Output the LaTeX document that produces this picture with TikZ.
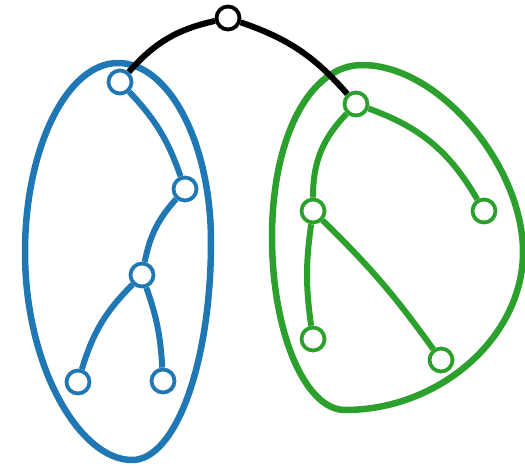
\documentclass[tikz,border=0pt]{standalone}
\definecolor{treeblue}{HTML}{1F77B4}
\definecolor{treegreen}{HTML}{2CA02C}
\tikzset{
  vert/.style={circle,draw,fill=white,line width=3.8pt,minimum size=23pt,inner sep=0pt},
  link/.style={line width=6pt},
  hull/.style={line width=6.5pt,line join=round}
}
\begin{document}
\begin{tikzpicture}[x=1pt,y=1pt]
\useasboundingbox (0,0) rectangle (525,467);
% the two clusters
\draw[hull,treeblue] (118,404) .. controls (169,404) and (211,324) .. (211,225)
  .. controls (211,105) and (176,7) .. (132,7)
  .. controls (80,7) and (25,100) .. (25,215)
  .. controls (25,319) and (67,404) .. (118,404) -- cycle;
\draw[hull,treegreen] (362,402) .. controls (440,402) and (523,300) .. (523,215)
  .. controls (523,130) and (440,57) .. (345,57)
  .. controls (305,57) and (272,135) .. (272,230)
  .. controls (272,330) and (310,402) .. (362,402) -- cycle;
% vertices
\node[vert] (r) at (228,449) {};
\node[vert,draw=treeblue] (b1) at (120,385) {};
\node[vert,draw=treeblue] (b2) at (185,278) {};
\node[vert,draw=treeblue] (b3) at (142,192) {};
\node[vert,draw=treeblue] (b4) at (78,85) {};
\node[vert,draw=treeblue] (b5) at (163,86) {};
\node[vert,draw=treegreen] (g1) at (356,363) {};
\node[vert,draw=treegreen] (g2) at (313,256) {};
\node[vert,draw=treegreen] (g3) at (484,256) {};
\node[vert,draw=treegreen] (g4) at (313,128) {};
\node[vert,draw=treegreen] (g5) at (441,107) {};
% edges
\draw[link] (r) to[bend right=18] (b1);
\draw[link] (r) to[bend left=15] (g1);
\draw[link,treeblue] (b1) to[bend left=12] (b2);
\draw[link,treeblue] (b2) to[bend right=15] (b3);
\draw[link,treeblue] (b3) to[bend right=14] (b4);
\draw[link,treeblue] (b3) to[bend left=8] (b5);
\draw[link,treegreen] (g1) to[bend right=22] (g2);
\draw[link,treegreen] (g1) to[bend left=20] (g3);
\draw[link,treegreen] (g2) to[bend right=8] (g4);
\draw[link,treegreen] (g2) to[bend left=5] (g5);
\end{tikzpicture}
\end{document}
